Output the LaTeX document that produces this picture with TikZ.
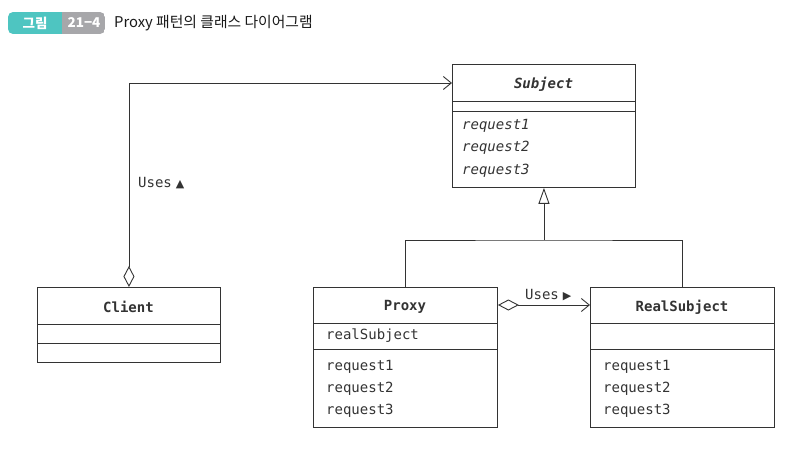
\documentclass[tikz,border=0pt]{standalone}
\usepackage{fontspec}
\setmainfont{DejaVu Sans}
\setmonofont{DejaVu Sans Mono}
\newfontfamily\krfont{Noto Sans CJK KR}
\newfontfamily\symfont{DejaVu Sans}
\usetikzlibrary{arrows.meta}
\definecolor{linec}{HTML}{333333}
\definecolor{badgeteal}{HTML}{4EC5C1}
\definecolor{badgegray}{HTML}{A7A7AA}
\tikzset{
  box/.style={draw=linec, line width=0.9pt, anchor=north west, inner sep=0pt},
  sep/.style={draw=linec, line width=0.9pt},
  mono/.style={font=\fontsize{14}{16}\selectfont\ttfamily, text=linec, inner sep=0pt},
  member/.style={mono, anchor=west},
  title/.style={mono, font=\fontsize{14}{16}\selectfont\ttfamily\bfseries},
  ital/.style={member, font=\fontsize{14}{16}\selectfont\ttfamily\itshape},
  conn/.style={draw=linec, line width=0.9pt},
  agg/.style={conn, {Diamond[open,length=21pt,width=11pt,line width=0.9pt]}-{Straight Barb[length=8pt,width=13pt,line width=0.9pt]}},
}
\begin{document}
\begin{tikzpicture}[x=1pt,y=-1pt]
\useasboundingbox (0,0) rectangle (798,449);
% badge
\begin{scope}
\clip[rounded corners=5pt] (8,12) rectangle (105,34);
\fill[badgeteal] (8,12) rectangle (62,34);
\fill[badgegray] (62,12) rectangle (105,34);
\end{scope}
\node[font=\krfont\bfseries\fontsize{13.5}{15}\selectfont, text=white] (badge1) at (35,23) {그림};
\node[font=\krfont\bfseries\fontsize{13.5}{15}\selectfont, text=white] (badge2) at (84,23) {21−4};
\node[font=\krfont\fontsize{14.8}{16}\selectfont, anchor=west, inner sep=0pt, text=black!90] (caption) at (114,23) {Proxy 패턴의 클래스 다이어그램};
% Subject
\node[box, minimum width=183pt, minimum height=123pt] (subject) at (452,64) {};
\draw[sep] (452,101) -- (635,101);
\draw[sep] (452,111) -- (635,111);
\node[title, font=\fontsize{14}{16}\selectfont\ttfamily\bfseries\itshape] (subjtitle) at (543.5,84) {Subject};
\node[ital] (s1) at (462,126) {request1};
\node[ital] (s2) at (462,148) {request2};
\node[ital] (s3) at (462,171) {request3};
% Client
\node[box, minimum width=183pt, minimum height=75pt] (client) at (37,287) {};
\draw[sep] (37,324) -- (220,324);
\draw[sep] (37,343) -- (220,343);
\node[title] (clienttitle) at (128.5,307) {Client};
% Proxy
\node[box, minimum width=184pt, minimum height=140pt] (proxy) at (313,287) {};
\draw[sep] (313,323) -- (497,323);
\draw[sep] (313,349) -- (497,349);
\node[title] (proxytitle) at (405,307) {Proxy};
\node[member] (pf) at (326,336) {realSubject};
\node[member] (p1) at (326,367) {request1};
\node[member] (p2) at (326,389) {request2};
\node[member] (p3) at (326,411) {request3};
% RealSubject
\node[box, minimum width=184pt, minimum height=140pt] (real) at (590,287) {};
\draw[sep] (590,323) -- (774,323);
\draw[sep] (590,349) -- (774,349);
\node[title] (realtitle) at (682,307) {RealSubject};
\node[member] (r1) at (603,367) {request1};
\node[member] (r2) at (603,389) {request2};
\node[member] (r3) at (603,411) {request3};
% inheritance
\coordinate (join) at (subject.south |- 0,240);
\draw[conn] (proxy.north) |- (join) -| (real.north);
\draw[conn, -{Triangle[open,length=16pt,width=11pt,line width=0.9pt]}] (join) -- (subject.south);
% Client uses Subject
\coordinate (subjin) at (subject.west |- 0,83);
\draw[agg] (client.north) |- (subjin);
\node[mono, anchor=west] (uses1) at (138,183) {Uses\hspace{4pt}{\symfont\fontsize{11}{12}\selectfont ▲}};
% Proxy uses RealSubject
\coordinate (proxout) at (proxy.east |- 0,305);
\coordinate (realin) at (real.west |- 0,305);
\draw[agg] (proxout) -- (realin);
\node[mono, anchor=west] (uses2) at (525,295) {Uses\hspace{4pt}{\symfont\fontsize{11}{12}\selectfont ▶}};
\end{tikzpicture}
\end{document}
